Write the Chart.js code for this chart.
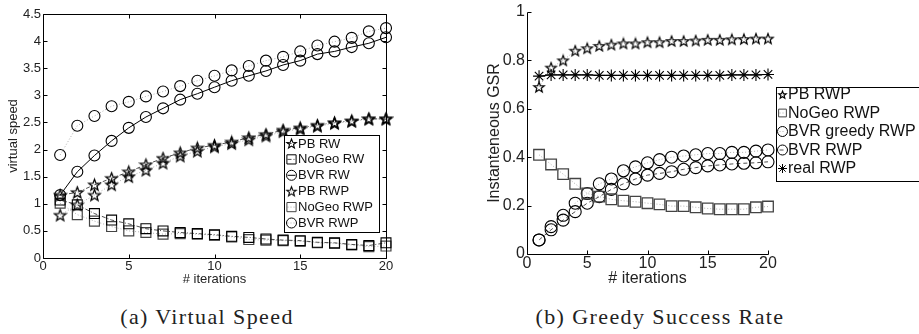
<!DOCTYPE html>
<html>
<head>
<meta charset="utf-8">
<script src="https://cdn.jsdelivr.net/npm/chart.js@4.4.1/dist/chart.umd.min.js"></script>
<style>
  body { margin: 0; background: #fff; width: 919px; height: 334px; position: relative; overflow: hidden; }
  canvas { position: absolute; top: 0; }
  #speed { left: 0; }
  #gsr { left: 460px; }
  .caption { position: absolute; top: 305px; line-height: 24px; font-family: "Liberation Serif", serif; font-size: 22px;
             letter-spacing: 1.4px; color: #222; white-space: nowrap; transform: translateX(-50%); }
</style>
</head>
<body>
<canvas id="speed" width="400" height="300"></canvas>
<canvas id="gsr" width="459" height="300"></canvas>
<div class="caption" style="left:207px">(a) Virtual Speed</div>
<div class="caption" style="left:660px">(b) Greedy Success Rate</div>
<script>
const iterations = [1, 2, 3, 4, 5, 6, 7, 8, 9, 10, 11, 12, 13, 14, 15, 16, 17, 18, 19, 20];
const iterTicks = [0, 5, 10, 15, 20];
const speedTicks = [0, 0.5, 1, 1.5, 2, 2.5, 3, 3.5, 4, 4.5];
const gsrTicks = [0, 0.2, 0.4, 0.6, 0.8, 1];

// (a) virtual speed
const speedPbRw     = [1.16, 1.21, 1.35, 1.47, 1.59, 1.72, 1.84, 1.94, 2.03, 2.08, 2.14, 2.22, 2.28, 2.36, 2.40, 2.45, 2.50, 2.53, 2.57, 2.56];
const speedNoGeoRw  = [1.07, 0.98, 0.82, 0.70, 0.63, 0.54, 0.50, 0.47, 0.45, 0.43, 0.40, 0.38, 0.35, 0.33, 0.32, 0.29, 0.28, 0.25, 0.23, 0.28];
const speedBvrRw    = [1.16, 1.59, 1.89, 2.16, 2.40, 2.60, 2.76, 2.92, 3.03, 3.15, 3.27, 3.36, 3.45, 3.56, 3.64, 3.76, 3.81, 3.89, 3.96, 4.07];
const speedPbRwp    = [0.79, 0.98, 1.16, 1.35, 1.50, 1.62, 1.75, 1.88, 1.97, 2.05, 2.11, 2.18, 2.25, 2.33, 2.38, 2.43, 2.48, 2.52, 2.56, 2.57];
const speedNoGeoRwp = [1.01, 0.80, 0.68, 0.58, 0.50, 0.47, 0.44, 0.45, 0.44, 0.42, 0.39, 0.34, 0.33, 0.32, 0.31, 0.28, 0.27, 0.24, 0.21, 0.22];
const speedBvrRwp   = [1.90, 2.44, 2.62, 2.80, 2.88, 2.98, 3.07, 3.17, 3.27, 3.36, 3.46, 3.54, 3.64, 3.71, 3.81, 3.92, 3.99, 4.06, 4.18, 4.24];

// (b) greedy success rate
const gsrPbRwp        = [0.69, 0.77, 0.80, 0.84, 0.85, 0.86, 0.865, 0.87, 0.87, 0.875, 0.875, 0.88, 0.88, 0.882, 0.885, 0.885, 0.887, 0.888, 0.89, 0.89];
const gsrNoGeoRwp     = [0.41, 0.37, 0.33, 0.29, 0.25, 0.237, 0.226, 0.22, 0.216, 0.21, 0.205, 0.198, 0.198, 0.193, 0.188, 0.185, 0.185, 0.185, 0.193, 0.196];
const gsrBvrGreedyRwp = [0.058, 0.113, 0.16, 0.21, 0.25, 0.29, 0.31, 0.344, 0.36, 0.377, 0.39, 0.40, 0.405, 0.41, 0.415, 0.415, 0.42, 0.42, 0.425, 0.43];
const gsrBvrRwp       = [0.058, 0.10, 0.14, 0.175, 0.21, 0.237, 0.267, 0.29, 0.31, 0.326, 0.333, 0.34, 0.35, 0.357, 0.364, 0.368, 0.372, 0.375, 0.377, 0.381];
const gsrRealRwp      = [0.735, 0.74, 0.74, 0.74, 0.74, 0.738, 0.738, 0.738, 0.738, 0.738, 0.738, 0.738, 0.738, 0.738, 0.738, 0.738, 0.74, 0.74, 0.74, 0.742];

Chart.defaults.font.family = "'Liberation Sans', Arial, sans-serif";
Chart.defaults.color = '#222';

const GRAY_LINE = '#9a9a9a';
const GRAY_MARK = '#444';

// matlab-ish pentagram outline
function makeStar(size, color, lw) {
  const c = document.createElement('canvas');
  c.width = c.height = size + 3;
  const g = c.getContext('2d');
  const cx = c.width / 2, cy = c.height / 2 + 0.5, R = size / 2, r = R * 0.42;
  g.beginPath();
  for (let k = 0; k < 10; k++) {
    const ang = -Math.PI / 2 + k * Math.PI / 5;
    const rad = k % 2 ? r : R;
    g.lineTo(cx + rad * Math.cos(ang), cy + rad * Math.sin(ang));
  }
  g.closePath();
  g.strokeStyle = color;
  g.lineJoin = 'miter';
  g.lineWidth = lw;
  g.stroke();
  return c;
}

function pts(vals) {
  return vals.map((v, i) => ({ x: iterations[i], y: v }));
}

function series(label, vals, o) {
  return {
    label, data: pts(vals), clip: false,
    borderColor: o.line, borderWidth: o.lw || 1, borderDash: o.dash || [],
    pointStyle: o.style, pointRadius: o.r, pointBorderColor: o.mark || '#000',
    pointBackgroundColor: 'rgba(0,0,0,0)', pointBorderWidth: o.pw || 1.1,
    legendStyle: o.legendStyle || o.style, legendR: o.legendR || o.r,
  };
}

function drawMarker(ctx, style, r, x, y, color) {
  if (style instanceof HTMLCanvasElement) {
    ctx.drawImage(style, x - style.width / 2, y - style.height / 2);
    return;
  }
  ctx.save();
  ctx.strokeStyle = color;
  ctx.lineWidth = 1;
  ctx.beginPath();
  if (style === 'circle') {
    ctx.arc(x, y, r, 0, Math.PI * 2);
  } else if (style === 'rect') {
    const s = r * Math.SQRT1_2;
    ctx.rect(x - s, y - s, 2 * s, 2 * s);
  } else if (style === 'star') {
    for (let k = 0; k < 4; k++) {
      const a = k * Math.PI / 4;
      ctx.moveTo(x - r * Math.cos(a), y - r * Math.sin(a));
      ctx.lineTo(x + r * Math.cos(a), y + r * Math.sin(a));
    }
  }
  ctx.stroke();
  ctx.restore();
}

// axes box + inward ticks + legend box
function decorPlugin(cfg) {
  return {
    id: 'decor',
    afterDraw(chart) {
      const { ctx, chartArea: a, scales } = chart;
      const L = Math.round(a.left) + 0.5, R = Math.round(a.right) + 0.5;
      const T = Math.round(a.top) + 0.5, B = Math.round(a.bottom) + 0.5;
      ctx.save();
      ctx.strokeStyle = '#000';
      ctx.lineWidth = 1;
      ctx.setLineDash([]);
      ctx.beginPath();
      ctx.moveTo(L, T); ctx.lineTo(L, B); ctx.lineTo(R, B);
      if (cfg.box) { ctx.lineTo(R, T); ctx.lineTo(L, T); }
      const tl = 4;
      scales.x.ticks.forEach(t => {
        const px = Math.round(scales.x.getPixelForValue(t.value)) + 0.5;
        ctx.moveTo(px, B); ctx.lineTo(px, B - tl);
        if (cfg.box) { ctx.moveTo(px, T); ctx.lineTo(px, T + tl); }
      });
      scales.y.ticks.forEach(t => {
        const py = Math.round(scales.y.getPixelForValue(t.value)) + 0.5;
        ctx.moveTo(L, py); ctx.lineTo(L + tl, py);
        if (cfg.box) { ctx.moveTo(R, py); ctx.lineTo(R - tl, py); }
      });
      ctx.stroke();

      // legend
      const lg = cfg.legend;
      ctx.fillStyle = '#fff';
      ctx.fillRect(lg.x, lg.y, lg.w, lg.h);
      ctx.strokeRect(lg.x + 0.5, lg.y + 0.5, lg.w, lg.h);
      ctx.font = lg.font + "px 'Liberation Sans', Arial, sans-serif";
      ctx.textBaseline = 'middle';
      ctx.textAlign = 'left';
      chart.data.datasets.forEach((ds, i) => {
        const cy = lg.y + lg.first + i * lg.row;
        ctx.save();
        ctx.strokeStyle = ds.borderColor;
        ctx.lineWidth = ds.borderWidth;
        ctx.setLineDash(ds.borderDash || []);
        ctx.beginPath();
        ctx.moveTo(lg.mx - lg.sample, cy);
        ctx.lineTo(lg.mx + lg.sample, cy);
        ctx.stroke();
        ctx.restore();
        drawMarker(ctx, ds.legendStyle, ds.legendR, lg.mx, cy, ds.pointBorderColor);
        ctx.fillStyle = '#111';
        ctx.fillText(ds.label, lg.tx, cy + 0.5);
      });
      ctx.restore();
    }
  };
}

function makeChart(id, datasets, o) {
  return new Chart(document.getElementById(id), {
    type: 'line',
    data: { datasets },
    options: {
      responsive: false,
      animation: false,
      layout: { padding: { left: 0, top: o.top, right: o.right, bottom: 0 } },
      plugins: { legend: { display: false }, tooltip: { enabled: false } },
      scales: {
        x: {
          type: 'linear', min: 0, max: 20,
          afterBuildTicks: s => { s.ticks = iterTicks.map(v => ({ value: v })); },
          afterFit: s => { s.height = o.xh; },
          grid: { display: false, drawTicks: false },
          border: { display: false },
          ticks: { font: { size: o.tickSize }, padding: o.xPad, maxRotation: 0, color: '#222', callback: v => String(v) },
          title: { display: true, text: '# iterations', font: { size: o.xTitleSize }, color: '#222',
                   padding: { top: 0, bottom: o.xTitlePad } },
        },
        y: {
          type: 'linear', min: o.ymin, max: o.ymax,
          afterBuildTicks: s => { s.ticks = o.yTicks.map(v => ({ value: v })); },
          afterFit: s => { s.width = o.yw; },
          grid: { display: false, drawTicks: false },
          border: { display: false },
          ticks: { font: { size: o.tickSize }, padding: 2, color: '#222', callback: v => String(v) },
          title: { display: true, text: o.yTitle, font: { size: o.yTitleSize }, color: '#222',
                   padding: { top: o.yTitlePad, bottom: 0 } },
        },
      },
    },
    plugins: [decorPlugin(o.decor)],
  });
}

const starA = makeStar(12, '#000', 1.3);
const starALeg = makeStar(10, '#000', 1.1);
const starB = makeStar(11, '#000', 1.2);
const starBLeg = makeStar(8, '#000', 1.1);

makeChart('speed', [
  series('PB RW', speedPbRw, { style: starA, legendStyle: starALeg, r: 6, line: '#222', lw: 0.8, dash: [4, 2, 1, 2] }),
  series('NoGeo RW', speedNoGeoRw, { style: 'rect', r: 7, legendR: 6.5, line: '#222', lw: 0.8, dash: [4, 2, 1, 2] }),
  series('BVR RW', speedBvrRw, { style: 'circle', r: 5.5, legendR: 5, line: '#000', lw: 1 }),
  series('PB RWP', speedPbRwp, { style: starA, legendStyle: starALeg, r: 6, line: GRAY_LINE, lw: 0.8, dash: [1, 2] }),
  series('NoGeo RWP', speedNoGeoRwp, { style: 'rect', r: 7, legendR: 6.5, mark: GRAY_MARK, pw: 1.2, line: GRAY_LINE, lw: 0.8, dash: [1, 2] }),
  series('BVR RWP', speedBvrRwp, { style: 'circle', r: 5.5, legendR: 5, line: GRAY_LINE, lw: 0.8, dash: [1, 2] }),
], {
  top: 14, right: 14, xh: 42, yw: 43, ymin: 0, ymax: 4.5, yTicks: speedTicks,
  tickSize: 13, xPad: 1, xTitleSize: 13, xTitlePad: 13,
  yTitle: 'virtual speed', yTitleSize: 13, yTitlePad: 6,
  decor: { box: true, legend: { x: 284, y: 135, w: 95, h: 97, first: 8.5, row: 15.9, mx: 291.5, tx: 298, sample: 4, font: 13 } },
});

makeChart('gsr', [
  series('PB RWP', gsrPbRwp, { style: starB, legendStyle: starBLeg, r: 6, line: GRAY_LINE, lw: 0.8, dash: [1, 2] }),
  series('NoGeo RWP', gsrNoGeoRwp, { style: 'rect', r: 7.5, legendR: 5.5, mark: GRAY_MARK, pw: 1.3, line: GRAY_LINE, lw: 0.8, dash: [1, 2] }),
  series('BVR greedy RWP', gsrBvrGreedyRwp, { style: 'circle', r: 6, legendR: 5, line: GRAY_LINE, lw: 0.8, dash: [1, 2] }),
  series('BVR RWP', gsrBvrRwp, { style: 'circle', r: 6, legendR: 5, line: '#222', lw: 0.8, dash: [4, 3] }),
  series('real RWP', gsrRealRwp, { style: 'star', r: 6, legendR: 4.5, line: '#000', lw: 1 }),
], {
  top: 12, right: 151, xh: 46, yw: 67, ymin: 0, ymax: 1, yTicks: gsrTicks,
  tickSize: 16, xPad: 0, xTitleSize: 16, xTitlePad: 12,
  yTitle: 'Instanteneous GSR', yTitleSize: 16, yTitlePad: 25,
  decor: { box: false, legend: { x: 316, y: 87, w: 160, h: 94, first: 7.5, row: 18.5, mx: 322.5, tx: 328, sample: 3, font: 16 } },
});
</script>
</body>
</html>
